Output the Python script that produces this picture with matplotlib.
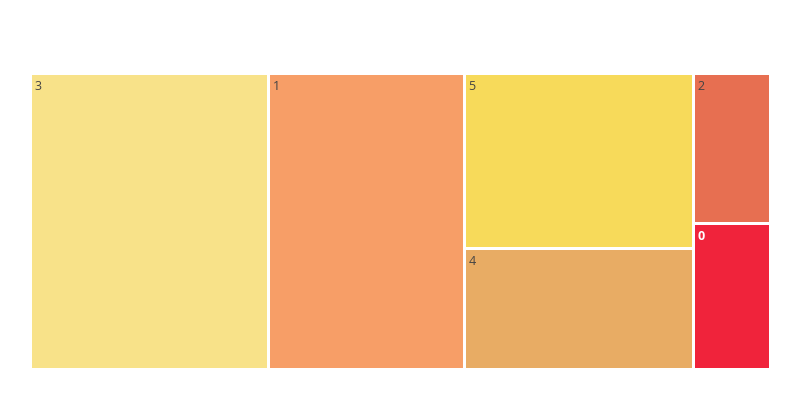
import matplotlib.pyplot as plt
from matplotlib.patches import Rectangle

plt.rcParams['font.family'] = ['Open Sans', 'DejaVu Sans']

labels = ["3", "1", "5", "4", "2", "0"]
values = [31.6, 26, 18, 12.4, 5.2, 5.0]
colors = ["#f8e289", "#f79e67", "#f7da5a", "#e8ac64", "#e76f51", "#f0233b"]
text_colors = ["#444444", "#444444", "#444444", "#444444", "#444444", "#ffffff"]

# plot domain in pixels
X0, Y0, X1, Y1 = 30, 73, 770, 369


def worst(row, side):
    s = sum(row)
    return max(max(side * side * r / (s * s), s * s / (side * side * r)) for r in row)


def squarify(areas, x, y, w, h):
    rects = []
    areas = list(areas)
    while areas:
        side = min(w, h)
        row = [areas.pop(0)]
        while areas and worst(row + [areas[0]], side) <= worst(row, side):
            row.append(areas.pop(0))
        s = sum(row)
        if w >= h:
            cw = s / h
            cy = y
            for a in row:
                rh = a / cw
                rects.append((x, cy, cw, rh))
                cy += rh
            x += cw
            w -= cw
        else:
            ch = s / w
            cx = x
            for a in row:
                rw = a / ch
                rects.append((cx, y, rw, ch))
                cx += rw
            y += ch
            h -= ch
    return rects


W, H = X1 - X0, Y1 - Y0
total = sum(values)
areas = [v * W * H / total for v in values]
rects = squarify(areas, X0, Y0, W, H)

fig = plt.figure(figsize=(8, 4), dpi=100)
ax = fig.add_axes([0, 0, 1, 1])
ax.set_xlim(0, 800)
ax.set_ylim(400, 0)
ax.axis("off")

inset = 1.5
for (x, y, w, h), lab, c, tc in zip(rects, labels, colors, text_colors):
    ax.add_patch(Rectangle((x + inset, y + inset), w - 2 * inset, h - 2 * inset,
                           facecolor=c, edgecolor="none"))
    ax.text(x + inset + 3, y + inset + 5, lab, fontsize=9, color=tc,
            ha="left", va="top", fontweight="bold" if tc == "#ffffff" else "normal")

fig.savefig("out.png", dpi=100)
